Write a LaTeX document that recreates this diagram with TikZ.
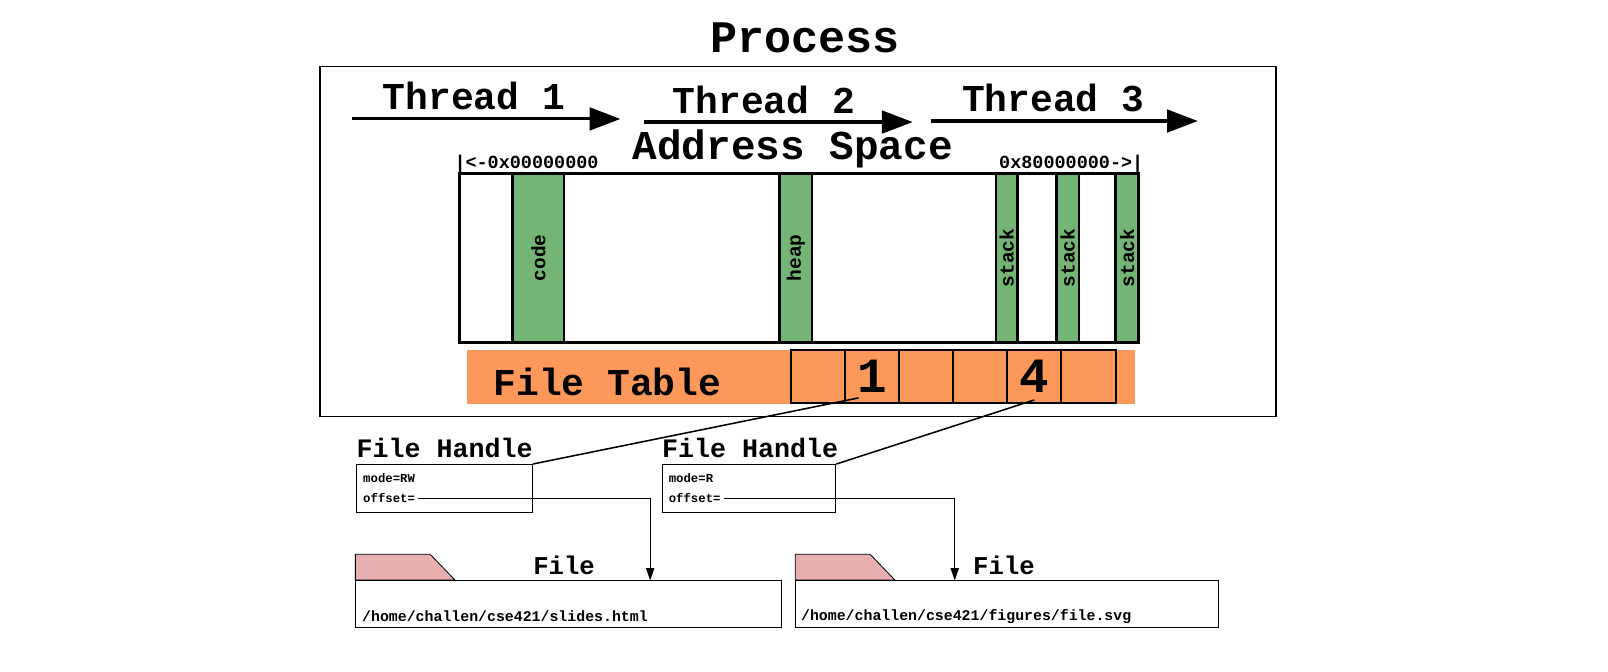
\documentclass[tikz,border=0pt]{standalone}
\usepackage{fontspec}
\setmainfont{Liberation Mono}
\usepackage{tikz}
\usetikzlibrary{arrows.meta}
\definecolor{segGreen}{RGB}{116,180,116}
\definecolor{tableOrange}{RGB}{252,152,90}
\definecolor{tabPink}{RGB}{231,175,175}
\newcommand\fsz[1]{\fontsize{#1pt}{#1pt}\selectfont\bfseries}

\begin{document}
\begin{tikzpicture}[
  x=1pt,
  y=-1pt,
  title/.style={
    font=\fsz{44},
  },
  thread label/.style={
    font=\fsz{37},
  },
  thread/.style={
    line width=3pt,
    -{Triangle[length=30pt,width=22pt]},
  },
  segment/.style={
    draw=black,
    line width=2.5pt,
    fill=segGreen,
    rotate=90,
    minimum width=165pt,
    inner sep=0pt,
    font=\fsz{19},
  },
  cell/.style={
    draw=black,
    line width=2pt,
    fill=tableOrange,
    minimum width=52.8pt,
    minimum height=52pt,
  },
  handle/.style={
    draw=black,
    line width=1pt,
    minimum height=47pt,
  },
  small text/.style={
    font=\fsz{12},
    inner sep=0pt,
    anchor=west,
  },
  link/.style={
    line width=1.5pt,
  },
  pointer/.style={
    line width=1.2pt,
    -{Triangle[length=12pt,width=8pt]},
  },
  file body/.style={
    draw=black,
    line width=1pt,
    minimum height=46pt,
  },
  file tab/.style={
    draw=black,
    line width=0.8pt,
    fill=tabPink,
  }
]
\useasboundingbox (0,0) rectangle (1568,655);

% process
\node[title] (proc title) at (785,37) {Process};
\node[draw,line width=1.5pt,minimum width=932pt,minimum height=341pt] (proc) at (778,235.5) {};

% threads
\coordinate (t1s) at (343,116);
\coordinate (t1e) at (605,116);
\coordinate (t2s) at (628,119);
\coordinate (t2e) at (890,119);
\coordinate (t3s) at (908,118);
\coordinate (t3e) at (1168,118);
\draw[thread] (t1s) -- (t1e);
\draw[thread] (t2s) -- (t2e);
\draw[thread] (t3s) -- (t3e);
\node[thread label] (t1) at (462,94) {Thread 1};
\node[thread label] (t2) at (745,97) {Thread 2};
\node[thread label] (t3) at (1027,96) {Thread 3};

% address space
\node[font=\fsz{40}] (as title) at (773,145) {Address Space};
\node[draw,line width=3pt,minimum width=662pt,minimum height=165pt] (as) at (779,251.5) {};
\node[font=\fsz{18},inner sep=0pt,anchor=base west] (low) at (443,164) {|<-0x00000000};
\node[font=\fsz{18},inner sep=0pt,anchor=base east] (high) at (1115,164) {0x80000000->|};
\node[segment,minimum height=50pt] (code) at (525,251.5) {code};
\node[segment,minimum height=32pt] (heap) at (776,251.5) {heap};
\node[segment,minimum height=21pt] (stack1) at (981.5,251.5) {stack};
\node[segment,minimum height=22pt] (stack2) at (1041,251.5) {stack};
\node[segment,minimum height=22pt] (stack3) at (1099,251.5) {stack};

% file table
\node[fill=tableOrange,minimum width=652pt,minimum height=53pt] (ft) at (781,367.5) {};
\node[font=\fsz{37},anchor=west,inner sep=0pt] (ft label) at (481,372) {File Table};
\foreach \i in {1,...,6}
  \node[cell] (c\i) at ({797.4+52.8*(\i-1)},367) {};
\node[font=\fsz{48}] (one) at (c2) {1};
\node[font=\fsz{48}] (four) at (c5) {4};

% file handles
\node[handle,minimum width=171pt] (fh1) at (433.5,476.5) {};
\node[handle,minimum width=169pt] (fh2) at (730.5,476.5) {};
\node[font=\fsz{26},inner sep=0pt,anchor=base west] (fh1 label) at ([yshift=6pt]fh1.north west) {File Handle};
\node[font=\fsz{26},inner sep=0pt,anchor=base west] (fh2 label) at ([yshift=6pt]fh2.north west) {File Handle};
\node[small text] (mode1) at (354,466) {mode=RW};
\node[small text] (off1) at (354,486) {offset=};
\node[small text] (mode2) at (652,466) {mode=R};
\node[small text] (off2) at (652,486) {offset=};
\draw[link] ([shift={(-13pt,6pt)}]c2.south) -- (fh1.north east);
\draw[link] ([shift={(0pt,4pt)}]c5.south) -- (fh2.north east);

% files
\node[file body,minimum width=415pt] (body1) at (554.5,589) {};
\node[file body,minimum width=412pt] (body2) at (982,589) {};
\draw[file tab] (body1.north west) -- ++(0,-25) -- ++(73,0) -- ++(24,25) -- cycle;
\draw[file tab] (body2.north west) -- ++(0,-25) -- ++(73,0) -- ++(24,25) -- cycle;
\node[font=\fsz{25}] (file1) at (550,551) {File};
\node[font=\fsz{25}] (file2) at (979,551) {File};
\node[font=\fsz{14.5},inner sep=0pt,anchor=west] (path1) at (353,601) {/home/challen/cse421/slides.html};
\node[font=\fsz{14.5},inner sep=0pt,anchor=west] (path2) at (781,601) {/home/challen/cse421/figures/file.svg};
\coordinate (hit1) at (634,566);
\coordinate (hit2) at (931,566);
\draw[pointer] ([xshift=3pt]off1.east) -| (hit1);
\draw[pointer] ([xshift=3pt]off2.east) -| (hit2);
\end{tikzpicture}
\end{document}
